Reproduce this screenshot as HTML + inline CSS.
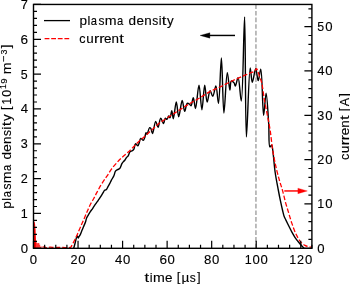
<!DOCTYPE html>
<html><head><meta charset="utf-8"><style>
html,body{margin:0;padding:0;background:#fff;width:350px;height:284px;overflow:hidden}
svg{display:block}
svg{will-change:transform}
text{font-family:"Liberation Sans",sans-serif;fill:#000;stroke:#000;stroke-width:0.12px}
</style></head><body>
<svg width="350" height="284" viewBox="0 0 350 284">
<rect width="350" height="284" fill="#fff"/>
<defs><clipPath id="c"><rect x="33.50" y="4.45" width="278.40" height="243.85"/></clipPath></defs>
<g clip-path="url(#c)" fill="none" stroke-linejoin="round">
<path d="M255.95 248.30 L255.95 4.45" stroke="#999999" stroke-width="1.30" stroke-dasharray="4.65 2.0"/>
<path d="M73.60 248.60 C74.07 246.90 74.59 245.07 75.00 243.50 C75.34 242.17 75.61 240.92 75.90 239.80 C76.14 238.86 76.29 237.88 76.60 237.20 C76.83 236.70 77.16 235.97 77.40 236.00 C77.70 236.03 77.91 237.98 78.20 238.00 C78.45 238.02 78.71 237.06 79.00 236.60 C79.30 236.13 79.65 235.83 80.00 235.20 C80.59 234.13 81.30 232.04 81.90 230.60 C82.43 229.33 82.86 228.30 83.40 227.00 C84.04 225.47 84.95 223.60 85.50 222.00 C85.98 220.60 86.09 219.18 86.60 217.95 C87.07 216.81 87.77 215.91 88.40 214.85 C89.07 213.73 89.86 212.33 90.50 211.40 C90.97 210.72 91.31 210.39 91.80 209.70 C92.51 208.69 93.42 207.19 94.30 205.90 C95.24 204.53 96.39 202.98 97.30 201.70 C98.07 200.62 98.74 199.69 99.40 198.70 C100.03 197.76 100.57 196.93 101.20 195.90 C101.95 194.67 102.96 192.82 103.60 191.80 C103.99 191.17 104.16 190.65 104.60 190.30 C105.03 189.96 105.72 190.11 106.20 189.70 C106.90 189.11 107.41 187.62 108.00 186.60 C108.57 185.62 109.16 184.71 109.70 183.70 C110.27 182.63 110.68 181.54 111.30 180.35 C112.04 178.93 113.19 177.32 113.90 175.75 C114.58 174.23 114.72 172.15 115.50 171.10 C116.07 170.34 116.88 170.04 117.60 169.60 C118.29 169.18 119.08 169.15 119.70 168.50 C120.62 167.53 121.18 164.95 121.90 163.70 C122.41 162.83 122.86 162.23 123.40 161.60 C123.90 161.01 124.50 160.63 125.00 160.00 C125.58 159.27 126.02 158.13 126.60 157.40 C127.10 156.77 127.71 156.52 128.20 155.80 C128.89 154.79 129.14 152.54 130.00 151.70 C130.65 151.06 131.73 151.15 132.40 150.70 C133.01 150.29 133.47 149.93 133.90 149.20 C134.59 148.01 134.56 144.07 135.40 143.80 C136.04 143.59 137.30 145.93 137.90 145.80 C138.40 145.69 138.54 144.64 138.90 143.80 C139.47 142.45 139.88 138.67 140.80 138.40 C141.48 138.20 142.64 140.45 143.30 140.30 C143.98 140.15 144.38 138.52 144.80 137.40 C145.32 136.03 145.51 132.68 146.00 132.60 C146.30 132.55 146.63 134.23 147.00 134.20 C147.72 134.13 148.72 127.88 149.60 127.60 C150.00 127.48 150.44 127.92 150.80 128.40 C151.51 129.33 151.88 133.62 152.50 133.60 C153.44 133.57 154.60 121.47 155.70 121.40 C156.48 121.35 157.34 127.44 158.10 127.40 C159.03 127.35 159.65 118.21 160.70 118.10 C161.55 118.01 162.83 123.67 163.60 123.60 C164.34 123.53 164.51 118.35 165.30 118.10 C165.78 117.95 166.49 119.52 167.00 119.40 C167.67 119.24 168.13 116.05 168.70 116.00 C169.13 115.96 169.60 117.78 170.00 117.70 C170.72 117.55 171.26 110.78 171.80 110.80 C172.37 110.82 172.72 118.70 173.30 118.70 C174.14 118.70 175.38 101.89 176.30 101.90 C177.17 101.91 177.75 116.68 178.70 116.70 C179.70 116.73 181.12 100.41 182.20 100.40 C183.09 100.39 183.79 111.26 184.70 111.30 C185.48 111.33 186.02 104.04 187.20 103.40 C187.81 103.07 188.68 103.63 189.30 104.00 C189.95 104.38 190.49 105.83 191.00 105.70 C191.95 105.45 192.59 97.67 193.30 97.70 C194.11 97.73 194.74 108.52 195.50 108.50 C196.61 108.47 197.94 85.08 199.00 85.10 C200.08 85.12 200.95 109.70 201.90 109.70 C202.85 109.70 203.75 85.11 204.70 85.10 C205.49 85.09 206.08 102.04 207.10 102.10 C207.95 102.15 208.97 90.81 210.10 90.70 C210.93 90.62 211.95 96.47 212.80 96.40 C213.92 96.31 215.02 85.94 215.90 86.00 C217.02 86.08 217.74 103.33 218.50 103.30 C219.73 103.25 220.53 57.89 221.40 57.90 C222.35 57.91 222.80 112.98 223.90 113.00 C224.84 113.02 226.06 72.64 227.30 72.60 C228.12 72.57 229.16 90.10 229.90 90.10 C230.43 90.10 230.16 81.61 231.30 81.10 C231.99 80.79 233.43 82.08 234.10 82.90 C234.77 83.74 234.83 86.11 235.30 86.10 C236.05 86.09 237.27 77.62 238.10 77.70 C239.45 77.83 240.40 101.04 241.30 101.00 C243.00 100.92 243.77 16.99 244.60 17.00 C245.59 17.01 245.19 136.88 246.40 136.90 C247.32 136.92 248.76 67.96 250.20 67.90 C250.86 67.87 251.37 82.25 252.30 82.30 C253.21 82.35 254.69 68.78 255.70 68.80 C256.64 68.82 257.34 80.59 258.20 80.60 C259.04 80.61 260.07 69.14 260.80 69.20 C262.26 69.32 262.51 115.37 263.60 115.40 C264.36 115.42 265.31 93.09 266.10 93.10 C267.03 93.11 268.05 114.47 268.70 124.00 C269.26 132.20 268.45 146.34 269.90 146.90 C270.38 147.09 271.23 144.96 271.70 145.10 C272.44 145.33 272.50 148.68 272.90 151.40 C273.62 156.28 274.16 165.38 275.10 172.00 C275.98 178.22 277.32 184.79 278.30 190.00 C279.05 194.00 279.67 197.13 280.40 200.60 C281.11 203.96 281.90 207.62 282.60 210.50 C283.15 212.76 283.58 214.81 284.20 216.50 C284.68 217.82 285.18 218.61 285.80 219.90 C286.64 221.64 287.79 223.96 288.80 226.00 C289.82 228.06 290.82 230.22 291.90 232.20 C292.93 234.08 293.92 235.85 295.10 237.60 C296.31 239.39 297.81 241.25 299.10 242.80 C300.20 244.13 301.30 245.36 302.30 246.40 C303.11 247.24 303.50 248.16 304.60 248.60 C306.27 249.27 309.47 248.60 311.90 248.60" stroke="#000" stroke-width="1.40"/>
<path d="M42.50 247.20 C43.00 247.07 43.47 246.77 44.00 246.80 C44.62 246.84 45.20 247.49 46.00 247.60 C47.09 247.75 48.59 247.21 50.00 247.20 C51.57 247.18 53.33 247.58 55.00 247.60 C56.67 247.62 58.33 247.30 60.00 247.30 C61.67 247.30 63.48 247.58 65.00 247.60 C66.27 247.62 67.48 247.54 68.50 247.50 C69.29 247.47 70.14 247.64 70.60 247.40 C70.92 247.23 70.94 247.00 71.20 246.60 C71.86 245.57 73.30 242.79 74.30 240.80 C75.34 238.73 76.30 236.63 77.30 234.40 C78.37 232.01 79.43 229.35 80.50 226.90 C81.53 224.52 82.61 222.17 83.60 219.90 C84.54 217.75 85.48 215.51 86.30 213.60 C86.99 212.00 87.49 210.77 88.20 209.20 C89.03 207.37 90.02 205.18 91.00 203.30 C91.93 201.52 92.95 199.95 93.90 198.20 C94.88 196.39 95.73 194.59 96.80 192.60 C98.03 190.30 99.48 187.56 100.90 185.20 C102.25 182.94 103.81 180.61 105.10 178.70 C106.14 177.16 107.02 176.07 108.00 174.60 C109.09 172.96 110.00 171.10 111.30 169.30 C112.80 167.24 114.80 165.00 116.60 163.00 C118.33 161.07 120.10 159.20 121.90 157.50 C123.61 155.88 125.36 154.57 127.10 153.00 C128.93 151.35 130.77 149.60 132.60 147.80 C134.50 145.94 136.28 143.91 138.30 142.00 C140.43 139.98 142.91 137.95 145.10 136.00 C147.17 134.16 148.93 132.55 151.10 130.60 C153.66 128.30 156.16 125.67 159.50 123.10 C163.78 119.81 170.09 116.08 175.00 112.90 C179.41 110.05 183.39 107.44 187.60 104.90 C191.72 102.41 196.11 100.12 200.00 97.80 C203.53 95.69 206.61 93.42 210.00 91.60 C213.28 89.84 216.46 88.70 220.00 87.00 C224.06 85.05 228.73 82.51 233.00 80.50 C237.06 78.59 241.82 76.57 245.00 75.20 C247.09 74.30 248.56 73.68 250.20 73.00 C251.67 72.39 253.32 72.12 254.40 71.30 C255.34 70.59 255.92 68.54 256.50 68.60 C257.04 68.66 257.37 70.25 257.80 71.30 C258.37 72.70 258.90 74.56 259.50 76.30 C260.16 78.21 261.09 80.40 261.60 82.30 C262.04 83.94 262.17 85.04 262.50 87.00 C263.05 90.25 263.62 95.47 264.40 100.00 C265.26 105.02 266.53 110.67 267.50 115.80 C268.42 120.66 269.28 124.77 270.10 130.00 C271.10 136.39 271.80 144.74 272.90 151.40 C273.87 157.30 275.01 162.82 276.20 168.00 C277.26 172.61 278.48 177.08 279.60 181.00 C280.54 184.29 281.49 186.75 282.40 190.00 C283.46 193.77 284.41 198.35 285.50 202.30 C286.52 206.00 287.63 209.46 288.70 213.00 C289.76 216.49 290.69 219.91 291.90 223.40 C293.15 227.01 294.46 230.98 296.10 234.30 C297.60 237.33 299.43 240.67 301.20 242.60 C302.43 243.94 303.77 244.71 305.00 245.40 C306.02 245.97 306.92 246.30 308.00 246.60 C309.20 246.93 310.60 247.00 311.90 247.20" stroke="#ff0000" stroke-width="1.30" stroke-dasharray="4.65 2.0"/>
<path d="M33.9 248 L33.9 221.6 L34.6 221.8 L35.1 224.5 L35.5 229 L35.8 235 L36.0 241 L36.0 248 Z" fill="#ff0000"/>
<path d="M35.60 248.00 L36.05 240.67 L36.50 248.00 L36.95 243.04 L37.40 248.00 L37.85 243.39 L38.30 248.00 L38.75 242.97 L39.20 248.00 L39.65 244.79 L40.10 248.00 L40.55 246.75 L41.00 248.00 L41.45 246.44" stroke="#ff0000" stroke-width="0.8" fill="none" opacity="0.7"/>
</g>
<path d="M33.50 248.30 V240.80 M44.64 248.30 V244.80 M55.77 248.30 V244.80 M66.91 248.30 V244.80 M78.04 248.30 V240.80 M89.18 248.30 V244.80 M100.32 248.30 V244.80 M111.45 248.30 V244.80 M122.59 248.30 V240.80 M133.72 248.30 V244.80 M144.86 248.30 V244.80 M156.00 248.30 V244.80 M167.13 248.30 V240.80 M178.27 248.30 V244.80 M189.40 248.30 V244.80 M200.54 248.30 V244.80 M211.68 248.30 V240.80 M222.81 248.30 V244.80 M233.95 248.30 V244.80 M245.08 248.30 V244.80 M256.22 248.30 V240.80 M267.36 248.30 V244.80 M278.49 248.30 V244.80 M289.63 248.30 V244.80 M300.76 248.30 V240.80 M311.90 248.30 V244.80 M33.50 248.30 H41.00 M33.50 241.33 H37.00 M33.50 234.37 H37.00 M33.50 227.40 H37.00 M33.50 220.43 H37.00 M33.50 213.46 H41.00 M33.50 206.50 H37.00 M33.50 199.53 H37.00 M33.50 192.56 H37.00 M33.50 185.60 H37.00 M33.50 178.63 H41.00 M33.50 171.66 H37.00 M33.50 164.69 H37.00 M33.50 157.73 H37.00 M33.50 150.76 H37.00 M33.50 143.79 H41.00 M33.50 136.83 H37.00 M33.50 129.86 H37.00 M33.50 122.89 H37.00 M33.50 115.92 H37.00 M33.50 108.96 H41.00 M33.50 101.99 H37.00 M33.50 95.02 H37.00 M33.50 88.06 H37.00 M33.50 81.09 H37.00 M33.50 74.12 H41.00 M33.50 67.15 H37.00 M33.50 60.19 H37.00 M33.50 53.22 H37.00 M33.50 46.25 H37.00 M33.50 39.29 H41.00 M33.50 32.32 H37.00 M33.50 25.35 H37.00 M33.50 18.38 H37.00 M33.50 11.42 H37.00 M33.50 4.45 H41.00 M311.90 248.30 H304.40 M311.90 239.43 H308.40 M311.90 230.57 H308.40 M311.90 221.70 H308.40 M311.90 212.83 H308.40 M311.90 203.96 H304.40 M311.90 195.10 H308.40 M311.90 186.23 H308.40 M311.90 177.36 H308.40 M311.90 168.49 H308.40 M311.90 159.63 H304.40 M311.90 150.76 H308.40 M311.90 141.89 H308.40 M311.90 133.03 H308.40 M311.90 124.16 H308.40 M311.90 115.29 H304.40 M311.90 106.42 H308.40 M311.90 97.56 H308.40 M311.90 88.69 H308.40 M311.90 79.82 H308.40 M311.90 70.95 H304.40 M311.90 62.09 H308.40 M311.90 53.22 H308.40 M311.90 44.35 H308.40 M311.90 35.49 H308.40 M311.90 26.62 H304.40 M311.90 17.75 H308.40 M311.90 8.88 H308.40" stroke="#000" stroke-width="1.2" fill="none"/>
<rect x="33.50" y="4.45" width="278.40" height="243.85" fill="none" stroke="#000" stroke-width="1.4"/>
<path d="M235 35.45 H208" stroke="#000" stroke-width="1.45" fill="none"/>
<path d="M200.0 35.45 L209.9 32.75 L209.9 38.15 Z" fill="#000" stroke="#000" stroke-width="0.3" stroke-linejoin="round"/>
<path d="M284.3 190.95 H299" stroke="#ff0000" stroke-width="1.45" fill="none"/>
<path d="M307.3 190.95 L297.9 188.2 L297.9 193.7 Z" fill="#ff0000" stroke="#ff0000" stroke-width="0.3" stroke-linejoin="round"/>
<path d="M44 20.6 H70" stroke="#000" stroke-width="1.3"/>
<path d="M44.6 38.7 H70" stroke="#ff0000" stroke-width="1.3" stroke-dasharray="4.8 1.8"/>
<text transform="translate(79.46 24.73) scale(1.0879 1.0308)" font-size="12.45">p</text>
<text transform="translate(87.42 24.80) scale(1.0222 1.0485)" font-size="12.45">l</text>
<text transform="translate(90.83 24.85) scale(0.8992 1.0481)" font-size="12.45">a</text>
<text transform="translate(98.53 24.85) scale(0.9586 1.0509)" font-size="12.45">s</text>
<text transform="translate(104.87 24.80) scale(1.1394 1.0408)" font-size="12.45">m</text>
<text transform="translate(117.08 24.85) scale(0.8992 1.0481)" font-size="12.45">a</text>
<text transform="translate(128.51 24.85) scale(1.0869 1.0539)" font-size="12.45">d</text>
<text transform="translate(136.41 24.85) scale(1.0801 1.0481)" font-size="12.45">e</text>
<text transform="translate(144.19 24.80) scale(1.0782 1.0408)" font-size="12.45">n</text>
<text transform="translate(152.19 24.85) scale(0.9586 1.0509)" font-size="12.45">s</text>
<text transform="translate(158.65 24.80) scale(1.0222 1.0485)" font-size="12.45">i</text>
<text transform="translate(161.87 24.70) scale(1.3365 1.0731)" font-size="12.45">t</text>
<text transform="translate(167.01 24.74) scale(1.0739 1.0259)" font-size="12.45">y</text>
<text transform="translate(79.36 42.75) scale(1.0034 1.0481)" font-size="12.45">c</text>
<text transform="translate(86.23 42.75) scale(1.0782 1.0672)" font-size="12.45">u</text>
<text transform="translate(94.01 42.70) scale(1.2812 1.0408)" font-size="12.45">r</text>
<text transform="translate(99.13 42.70) scale(1.2812 1.0408)" font-size="12.45">r</text>
<text transform="translate(104.07 42.75) scale(1.0801 1.0481)" font-size="12.45">e</text>
<text transform="translate(111.58 42.70) scale(1.0782 1.0408)" font-size="12.45">n</text>
<text transform="translate(119.31 42.60) scale(1.3365 1.0731)" font-size="12.45">t</text>
<text transform="translate(20.69 252.80) scale(1.0541 1.0683)" font-size="12.45">0</text>
<text transform="translate(20.79 217.91) scale(1.0068 1.0596)" font-size="12.45">1</text>
<text transform="translate(20.65 183.08) scale(1.0161 1.0629)" font-size="12.45">2</text>
<text transform="translate(20.85 148.29) scale(1.0124 1.0683)" font-size="12.45">3</text>
<text transform="translate(20.69 113.41) scale(1.0543 1.0596)" font-size="12.45">4</text>
<text transform="translate(20.84 78.62) scale(0.9949 1.0651)" font-size="12.45">5</text>
<text transform="translate(20.56 43.78) scale(1.0910 1.0683)" font-size="12.45">6</text>
<text transform="translate(20.74 8.90) scale(1.0311 1.0596)" font-size="12.45">7</text>
<text transform="translate(317.21 252.80) scale(1.0541 1.0683)" font-size="12.45">0</text>
<text transform="translate(317.31 208.41) scale(1.0068 1.0596)" font-size="12.45">1</text>
<text transform="translate(325.13 208.46) scale(1.0541 1.0683)" font-size="12.45">0</text>
<text transform="translate(317.18 164.08) scale(1.0161 1.0629)" font-size="12.45">2</text>
<text transform="translate(325.13 164.12) scale(1.0541 1.0683)" font-size="12.45">0</text>
<text transform="translate(317.37 119.79) scale(1.0124 1.0683)" font-size="12.45">3</text>
<text transform="translate(325.13 119.79) scale(1.0541 1.0683)" font-size="12.45">0</text>
<text transform="translate(317.21 75.40) scale(1.0543 1.0596)" font-size="12.45">4</text>
<text transform="translate(325.13 75.45) scale(1.0541 1.0683)" font-size="12.45">0</text>
<text transform="translate(317.36 31.11) scale(0.9949 1.0651)" font-size="12.45">5</text>
<text transform="translate(325.13 31.11) scale(1.0541 1.0683)" font-size="12.45">0</text>
<text transform="translate(29.85 263.55) scale(1.0541 1.0683)" font-size="12.45">0</text>
<text transform="translate(70.40 263.50) scale(1.0161 1.0629)" font-size="12.45">2</text>
<text transform="translate(78.35 263.55) scale(1.0541 1.0683)" font-size="12.45">0</text>
<text transform="translate(114.97 263.50) scale(1.0543 1.0596)" font-size="12.45">4</text>
<text transform="translate(122.90 263.55) scale(1.0541 1.0683)" font-size="12.45">0</text>
<text transform="translate(159.39 263.55) scale(1.0910 1.0683)" font-size="12.45">6</text>
<text transform="translate(167.44 263.55) scale(1.0541 1.0683)" font-size="12.45">0</text>
<text transform="translate(204.02 263.55) scale(1.0656 1.0683)" font-size="12.45">8</text>
<text transform="translate(211.98 263.55) scale(1.0541 1.0683)" font-size="12.45">0</text>
<text transform="translate(244.75 263.50) scale(1.0068 1.0596)" font-size="12.45">1</text>
<text transform="translate(252.57 263.55) scale(1.0541 1.0683)" font-size="12.45">0</text>
<text transform="translate(260.49 263.55) scale(1.0541 1.0683)" font-size="12.45">0</text>
<text transform="translate(289.30 263.50) scale(1.0068 1.0596)" font-size="12.45">1</text>
<text transform="translate(297.08 263.50) scale(1.0161 1.0629)" font-size="12.45">2</text>
<text transform="translate(305.03 263.55) scale(1.0541 1.0683)" font-size="12.45">0</text>
<text transform="translate(144.58 281.70) scale(1.3365 1.0731)" font-size="12.45">t</text>
<text transform="translate(149.70 281.80) scale(1.0222 1.0485)" font-size="12.45">i</text>
<text transform="translate(153.03 281.80) scale(1.1394 1.0408)" font-size="12.45">m</text>
<text transform="translate(165.08 281.85) scale(1.0801 1.0481)" font-size="12.45">e</text>
<text transform="translate(176.73 280.97) scale(1.0418 0.9565)" font-size="12.45">[</text>
<text transform="translate(181.57 281.74) scale(1.0866 1.0259)" font-size="12.45">µ</text>
<text transform="translate(189.70 281.85) scale(0.9586 1.0509)" font-size="12.45">s</text>
<text transform="translate(196.95 280.97) scale(1.0418 0.9565)" font-size="12.45">]</text>
<g transform="translate(349.0 126.6) rotate(-90)">
<text transform="translate(-33.39 0.05) scale(1.0034 1.0481)" font-size="12.45">c</text>
<text transform="translate(-26.52 0.05) scale(1.0782 1.0672)" font-size="12.45">u</text>
<text transform="translate(-18.74 0.00) scale(1.2812 1.0408)" font-size="12.45">r</text>
<text transform="translate(-13.62 0.00) scale(1.2812 1.0408)" font-size="12.45">r</text>
<text transform="translate(-8.68 0.05) scale(1.0801 1.0481)" font-size="12.45">e</text>
<text transform="translate(-1.17 0.00) scale(1.0782 1.0408)" font-size="12.45">n</text>
<text transform="translate(6.56 -0.10) scale(1.3365 1.0731)" font-size="12.45">t</text>
<text transform="translate(15.46 -0.83) scale(1.0418 0.9565)" font-size="12.45">[</text>
<text transform="translate(20.25 0.00) scale(1.0074 1.0596)" font-size="12.45">A</text>
<text transform="translate(29.80 -0.83) scale(1.0418 0.9565)" font-size="12.45">]</text>
</g>
<g transform="translate(11.15 126.70) rotate(-90)">
<text transform="translate(-81.93 -0.07) scale(1.0879 1.0308)" font-size="12.45">p</text>
<text transform="translate(-73.97 0.00) scale(1.0222 1.0485)" font-size="12.45">l</text>
<text transform="translate(-70.55 0.05) scale(0.8992 1.0481)" font-size="12.45">a</text>
<text transform="translate(-62.85 0.05) scale(0.9586 1.0509)" font-size="12.45">s</text>
<text transform="translate(-56.52 0.00) scale(1.1394 1.0408)" font-size="12.45">m</text>
<text transform="translate(-44.31 0.05) scale(0.8992 1.0481)" font-size="12.45">a</text>
<text transform="translate(-32.88 0.05) scale(1.0869 1.0539)" font-size="12.45">d</text>
<text transform="translate(-24.98 0.05) scale(1.0801 1.0481)" font-size="12.45">e</text>
<text transform="translate(-17.19 0.00) scale(1.0782 1.0408)" font-size="12.45">n</text>
<text transform="translate(-9.20 0.05) scale(0.9586 1.0509)" font-size="12.45">s</text>
<text transform="translate(-2.73 0.00) scale(1.0222 1.0485)" font-size="12.45">i</text>
<text transform="translate(0.48 -0.10) scale(1.3365 1.0731)" font-size="12.45">t</text>
<text transform="translate(5.62 -0.06) scale(1.0739 1.0259)" font-size="12.45">y</text>
<text transform="translate(16.75 -0.83) scale(1.0418 0.9565)" font-size="12.45">[</text>
<text transform="translate(21.88 0.00) scale(1.0068 1.0596)" font-size="12.45">1</text>
<text transform="translate(29.70 0.05) scale(1.0541 1.0683)" font-size="12.45">0</text>
<text transform="translate(37.60 -4.65) scale(1.0068 1.0596)" font-size="8.71">1</text>
<text transform="translate(42.96 -4.62) scale(1.0888 1.0683)" font-size="8.71">9</text>
<text transform="translate(52.54 0.00) scale(1.1394 1.0408)" font-size="12.45">m</text>
<text transform="translate(64.85 -4.01) scale(1.2884 1.1644)" font-size="8.71">−</text>
<text transform="translate(72.11 -4.62) scale(1.0124 1.0683)" font-size="8.71">3</text>
<text transform="translate(78.44 -0.83) scale(1.0418 0.9565)" font-size="12.45">]</text>
</g>
</svg>
</body></html>
